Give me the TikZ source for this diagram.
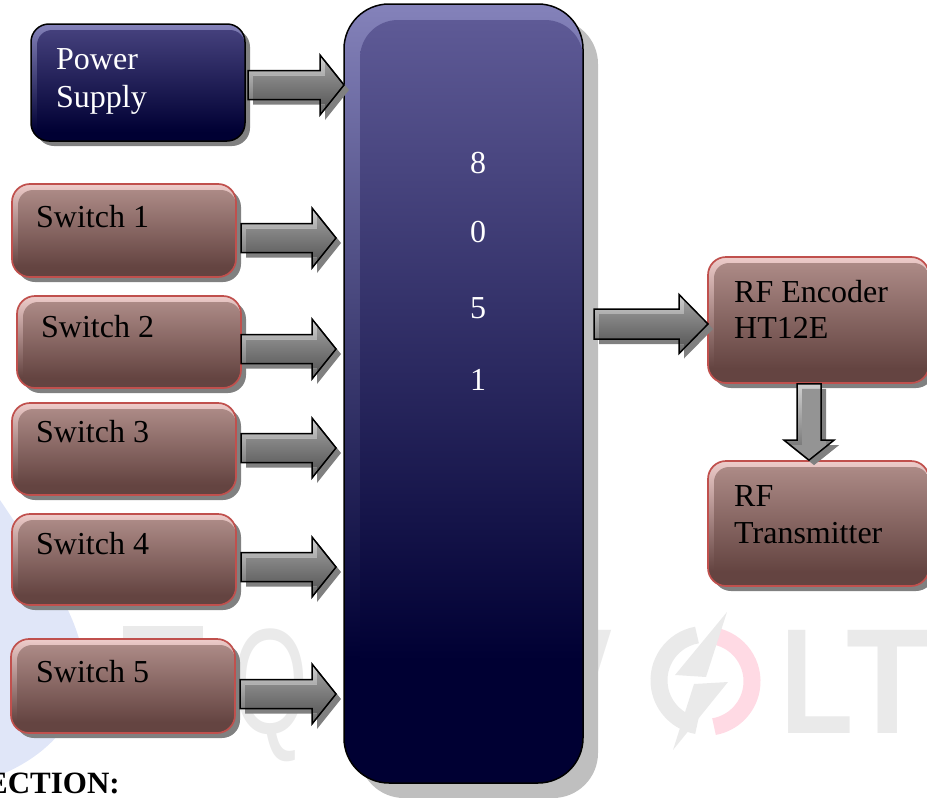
\documentclass[tikz,border=0pt]{standalone}
\usepackage{fontspec}
\setmainfont{Liberation Serif}
\newfontfamily\wmfont{Liberation Sans}
\usepackage{tikz}
\usetikzlibrary{calc,shadows}

\definecolor{navytop}{RGB}{94,90,150}
\definecolor{navyedge}{RGB}{132,130,186}
\definecolor{navylow}{RGB}{0,0,51}
\definecolor{pwrtop}{RGB}{68,64,124}
\definecolor{bricktop}{RGB}{172,138,134}
\definecolor{brickedge}{RGB}{238,204,202}
\definecolor{bricklow}{RGB}{100,68,65}
\definecolor{brickline}{RGB}{192,80,77}
\definecolor{wmgray}{RGB}{234,234,234}
\definecolor{wmpink}{RGB}{255,218,228}
\definecolor{wmblue}{RGB}{224,230,248}

\pgfdeclareverticalshading{navyfade}{100bp}{color(0bp)=(navylow); color(33bp)=(navylow); color(75bp)=(navytop); color(100bp)=(navytop)}
\pgfdeclareverticalshading{navyband}{100bp}{color(0bp)=(navylow); color(33bp)=(navylow); color(75bp)=(navyedge); color(100bp)=(navyedge)}
\pgfdeclareverticalshading{pwrfade}{100bp}{color(0bp)=(navylow); color(29bp)=(navylow); color(75bp)=(pwrtop); color(100bp)=(pwrtop)}
\pgfdeclareverticalshading{pwrband}{100bp}{color(0bp)=(navylow); color(29bp)=(navylow); color(75bp)=(navyedge); color(100bp)=(navyedge)}
\pgfdeclareverticalshading{brickfade}{100bp}{color(0bp)=(bricklow); color(31bp)=(bricklow); color(75bp)=(bricktop); color(100bp)=(bricktop)}
\pgfdeclareverticalshading{brickband}{100bp}{color(0bp)=(bricklow); color(31bp)=(bricklow); color(75bp)=(brickedge); color(100bp)=(brickedge)}

% outline of a fat arrow: from, tip, half shaft, half head, head length
\newcommand{\fatoutline}[5]{
	($(#1)!#3pt!90:(#2)$) --
	($($(#2)!#5pt!(#1)$)!#3pt!90:(#2)$) --
	($($(#2)!#5pt!(#1)$)!#4pt!90:(#2)$) --
	(#2) --
	($($(#2)!#5pt!(#1)$)!#4pt!-90:(#2)$) --
	($($(#2)!#5pt!(#1)$)!#3pt!-90:(#2)$) --
	($(#1)!#3pt!-90:(#2)$) -- cycle
}
\newcommand{\fatarrow}[6][fat-inner]{
	\coordinate (from-in) at ($(#2)+(5,5)$);
	\coordinate (tip-in) at ($(#3)+(5,5)$);
	\draw[fat-line,path picture={
		\shade[top color=black!18,bottom color=black!60] (path picture bounding box.south west) rectangle (path picture bounding box.north east);
		\fill[#1] \fatoutline{from-in}{tip-in}{#4}{#5}{#6};}] \fatoutline{#2}{#3}{#4}{#5}{#6};
}

\begin{document}
\begin{tikzpicture}[x=1pt,y=-1pt]
	\tikzstyle{sw-node}=[rectangle,draw=brickline,line width=1.7pt,rounded corners=18pt,inner sep=0pt,
		fill=white,drop shadow={shadow xshift=5pt,shadow yshift=-5pt,fill=black!50,opacity=1},
		path picture={\shade[shading=brickband] (path picture bounding box.north west) rectangle (path picture bounding box.south east);
			\shade[shading=brickfade,rounded corners=15pt]
			([shift={(6pt,-6pt)}]path picture bounding box.north west) rectangle (path picture bounding box.south east);}]
	\tikzstyle{pwr-node}=[rectangle,draw=black,line width=1.5pt,rounded corners=18pt,inner sep=0pt,
		fill=white,drop shadow={shadow xshift=5pt,shadow yshift=-5pt,fill=black!50,opacity=1},
		path picture={\shade[shading=pwrband] (path picture bounding box.north west) rectangle (path picture bounding box.south east);
			\shade[shading=pwrfade,rounded corners=15pt]
			([shift={(6pt,-6pt)}]path picture bounding box.north west) rectangle (path picture bounding box.south east);}]
	\tikzstyle{mcu-node}=[rectangle,draw=black,line width=1.5pt,rounded corners=45pt,inner sep=0pt,
		fill=white,drop shadow={shadow xshift=15pt,shadow yshift=-15pt,fill=black!25,opacity=1},
		path picture={\shade[shading=navyband] (path picture bounding box.north west) rectangle (path picture bounding box.south east);
			\shade[shading=navyfade,rounded corners=38pt]
			([shift={(16pt,-16pt)}]path picture bounding box.north west) rectangle (path picture bounding box.south east);}]
	\tikzstyle{annot}=[anchor=base west,inner sep=0pt,font=\fontsize{32}{38}\selectfont]
	\tikzstyle{digit}=[inner sep=0pt,text=white,font=\fontsize{32}{38}\selectfont]
	\tikzstyle{fat-line}=[draw=black,line width=1.5pt,line join=miter,fill=white,
		drop shadow={shadow xshift=5pt,shadow yshift=-5pt,fill=black!50,opacity=1}]
	\tikzstyle{fat-inner}=[top color=black!38,bottom color=black!72]
	\tikzstyle{fat-flat}=[fill=black!42]
	\tikzstyle{wm}=[inner sep=0pt,anchor=base,text=wmgray,font=\wmfont\bfseries\fontsize{150}{150}\selectfont]
	\tikzstyle{wm-thin}=[inner sep=0pt,anchor=base,text=wmgray,font=\wmfont\fontsize{150}{150}\selectfont]

	\useasboundingbox (0,0) rectangle (927,798);

	% watermark
	\fill[wmblue] (0,500) .. controls (40,560) and (84,620) .. (84,670) .. controls (84,715) and (50,755) .. (0,775) -- cycle;
	\fill[wmgray] (123,626) rectangle (203,640);
	\node[wm-thin,xscale=.65] (wm-q) at (270,733) {Q};
	\node[wm,xscale=.85] (wm-u) at (392,733) {U};
	\node[wm,xscale=.85] (wm-v) at (570,733) {V};
	\node[wm,xscale=.8] (wm-l) at (817,733) {L};
	\node[wm,xscale=.9] (wm-t) at (888,733) {T};
	\draw[wmgray,line width=17pt] (697,635) arc[start angle=-100,end angle=-260,radius=46];
	\draw[wmpink,line width=17pt] (714,636) arc[start angle=-80,end angle=80,radius=46];
	\fill[wmgray] (727,612) -- (675,675) -- (706,677) -- cycle;
	\fill[wmgray] (728,682) -- (673,750) -- (694,684) -- cycle;

	% blocks
	\node[pwr-node,minimum width=214pt,minimum height=117pt] (pwr) at (138,82.5) {};
	\node[mcu-node,minimum width=239pt,minimum height=779pt] (mcu) at (463.5,393.5) {};
	\node[sw-node,minimum width=224pt,minimum height=93pt] (sw1) at (124,230.5) {};
	\node[sw-node,minimum width=224pt,minimum height=92pt] (sw2) at (129,342) {};
	\node[sw-node,minimum width=224pt,minimum height=92pt] (sw3) at (124,449) {};
	\node[sw-node,minimum width=224pt,minimum height=91pt] (sw4) at (124,559.5) {};
	\node[sw-node,minimum width=224pt,minimum height=94pt] (sw5) at (123,686) {};
	\node[sw-node,minimum width=221pt,minimum height=126pt] (enc) at (818.5,320) {};
	\node[sw-node,minimum width=221pt,minimum height=125pt] (tx) at (818.5,523.5) {};

	% labels
	\node[annot,text=white] (pwr-label) at (56,69) {Power};
	\node[annot,text=white] (pwr-label2) at (56,107) {Supply};
	\node[annot] (sw1-label) at (36,227) {Switch 1};
	\node[annot] (sw2-label) at (41,337) {Switch 2};
	\node[annot] (sw3-label) at (36,442) {Switch 3};
	\node[annot] (sw4-label) at (36,554) {Switch 4};
	\node[annot] (sw5-label) at (36,682) {Switch 5};
	\node[annot] (enc-label) at (734,302) {RF Encoder};
	\node[annot] (enc-label2) at (734,338) {HT12E};
	\node[annot] (tx-label) at (734,506) {RF};
	\node[annot] (tx-label2) at (734,543) {Transmitter};
	\node[digit] (mcu-8) at (478,163) {8};
	\node[digit] (mcu-0) at (478,232) {0};
	\node[digit] (mcu-5) at (478,308) {5};
	\node[digit] (mcu-1) at (478,380) {1};
	\node[anchor=base east,inner sep=0pt,font=\bfseries\fontsize{31}{38}\selectfont] (sect) at (120,793) {ECTION:};

	% arrows
	\coordinate (pwr-out) at (248,85);
	\coordinate (pwr-in) at (344,85);
	\coordinate (sw1-out) at (241,238);
	\coordinate (sw1-in) at (336,238);
	\coordinate (sw2-out) at (241,349);
	\coordinate (sw2-in) at (336,349);
	\coordinate (sw3-out) at (241,448);
	\coordinate (sw3-in) at (336,448);
	\coordinate (sw4-out) at (241,567);
	\coordinate (sw4-in) at (336,567);
	\coordinate (sw5-out) at (240,694);
	\coordinate (sw5-in) at (336,694);
	\coordinate (mcu-out) at (594,324);
	\coordinate (enc-in) at (708,324);
	\coordinate (enc-out) at ($(enc.south)+(-9.5,0)$);
	\coordinate (tx-in) at ($(tx.north)+(-9.5,0)$);

	\fatarrow{pwr-out}{pwr-in}{14.5}{30}{24}
	\fatarrow{sw1-out}{sw1-in}{14.5}{30}{24}
	\fatarrow{sw2-out}{sw2-in}{14.5}{30}{24}
	\fatarrow{sw3-out}{sw3-in}{14.5}{30}{24}
	\fatarrow{sw4-out}{sw4-in}{14.5}{30}{24}
	\fatarrow{sw5-out}{sw5-in}{14.5}{30}{24}
	\fatarrow{mcu-out}{enc-in}{15}{29.5}{29}
	\fatarrow[fat-flat]{enc-out}{tx-in}{12}{25}{20}
\end{tikzpicture}
\end{document}
